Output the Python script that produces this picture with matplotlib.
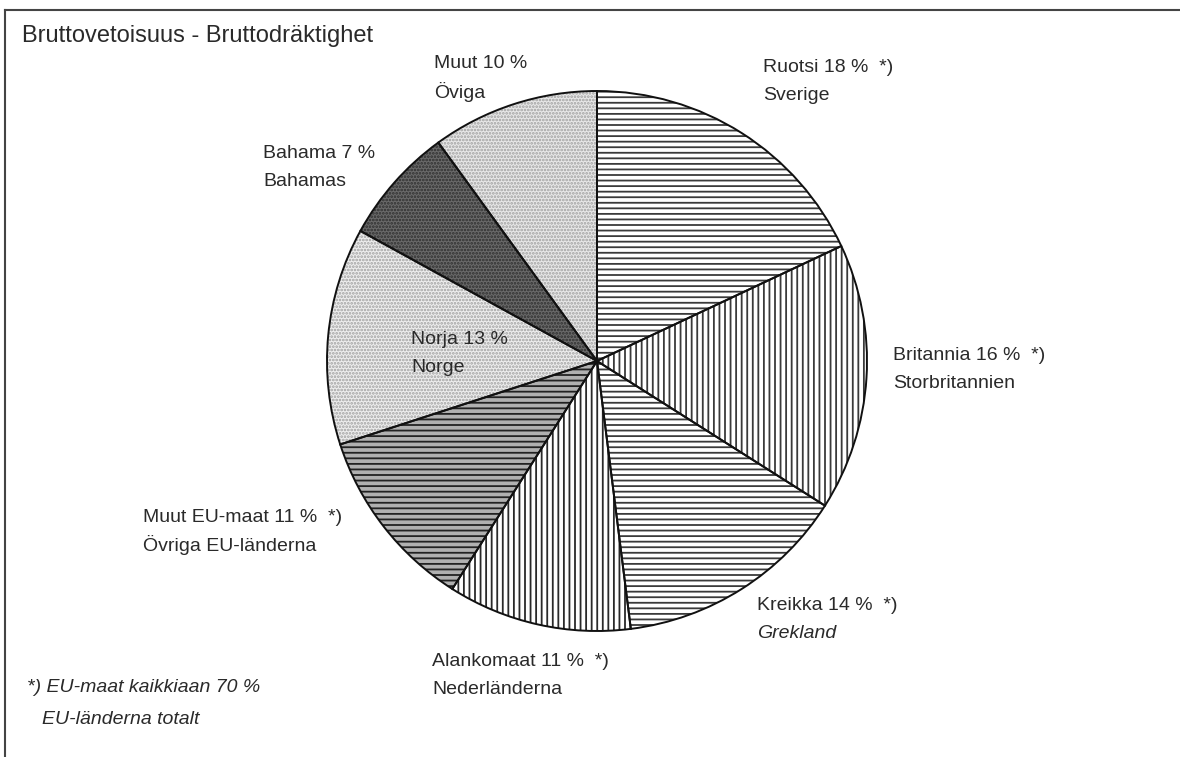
import matplotlib
matplotlib.use("Agg")
import matplotlib.pyplot as plt

plt.rcParams['font.family'] = ['Liberation Sans', 'DejaVu Sans']
plt.rcParams['hatch.linewidth'] = 1.3

# Data (clockwise from 12 o'clock)
names_fi = ["Ruotsi", "Britannia", "Kreikka", "Alankomaat", "Muut EU-maat", "Norja", "Bahama", "Muut"]
names_sv = ["Sverige", "Storbritannien", "Grekland", "Nederländerna", "Övriga EU-länderna", "Norge", "Bahamas", "Öviga"]
shares = [18, 16, 14, 11, 11, 13, 7, 10]
eu_flag = [True, True, True, True, True, False, False, False]
eu_total = 70

W, H = 1180, 757
fig = plt.figure(figsize=(W / 100, H / 100), dpi=100)
ax = fig.add_axes([0, 0, 1, 1])

def Y(y):
    return H - y

cx, cy, R = 597, 361, 270

styles = [
    dict(face='#ffffff', hatch='---', hcol='#3a3a3a'),
    dict(face='#ffffff', hatch='|||', hcol='#3a3a3a'),
    dict(face='#ffffff', hatch='---', hcol='#3a3a3a'),
    dict(face='#ffffff', hatch='|||', hcol='#2a2a2a'),
    dict(face='#b0b0b0', hatch='---', hcol='#222222'),
    dict(face='#eeeeee', hatch='.....', hcol='#a0a0a0'),
    dict(face='#6a6a6a', hatch='.....', hcol='#2e2e2e'),
    dict(face='#e8e8e8', hatch='.....', hcol='#a0a0a0'),
]

wedges, _ = ax.pie(shares, center=(cx, Y(cy)), radius=R, startangle=90,
                   counterclock=False, frame=True)
for w, s in zip(wedges, styles):
    w.set_facecolor(s['face'])
    w.set_hatch(s['hatch'])
    w.set_edgecolor(s['hcol'])
    w.set_linewidth(0)

ax.pie(shares, center=(cx, Y(cy)), radius=R, startangle=90,
       counterclock=False, frame=True,
       wedgeprops=dict(fill=False, edgecolor='#111111', linewidth=1.4))
ax.set_xlim(0, W)
ax.set_ylim(0, H)
ax.set_aspect('equal')
ax.axis('off')

# Labels (pixel positions of first line, left aligned)
label_pos = [(763, 68), (893, 355), (757, 606), (432, 661), (143, 517), (411, 340), (263, 153), (434, 64)]
line_gap = 28
fs = 14
tc = '#2a2a2a'
for i, (x, y) in enumerate(label_pos):
    star = "  *)" if eu_flag[i] else ""
    ax.text(x, Y(y), f"{names_fi[i]} {shares[i]} %{star}", fontsize=fs, color=tc,
            ha='left', va='center')
    style = 'italic' if names_sv[i] == "Grekland" else 'normal'
    ax.text(x, Y(y + line_gap), names_sv[i], fontsize=fs, color=tc,
            ha='left', va='center', style=style)

ax.text(22, Y(36), "Bruttovetoisuus - Bruttodräktighet", fontsize=17, color=tc,
        ha='left', va='center')
ax.text(27, Y(688), f"*) EU-maat kaikkiaan {eu_total} %", fontsize=fs, color=tc,
        ha='left', va='center', style='italic')
ax.text(42, Y(719), "EU-länderna totalt", fontsize=fs, color=tc,
        ha='left', va='center', style='italic')

# frame lines
ax.plot([5, W], [Y(10), Y(10)], color='#444444', lw=1.5)
ax.plot([5, 5], [Y(10), 0], color='#444444', lw=1.5)

fig.savefig("out.png", dpi=100)
